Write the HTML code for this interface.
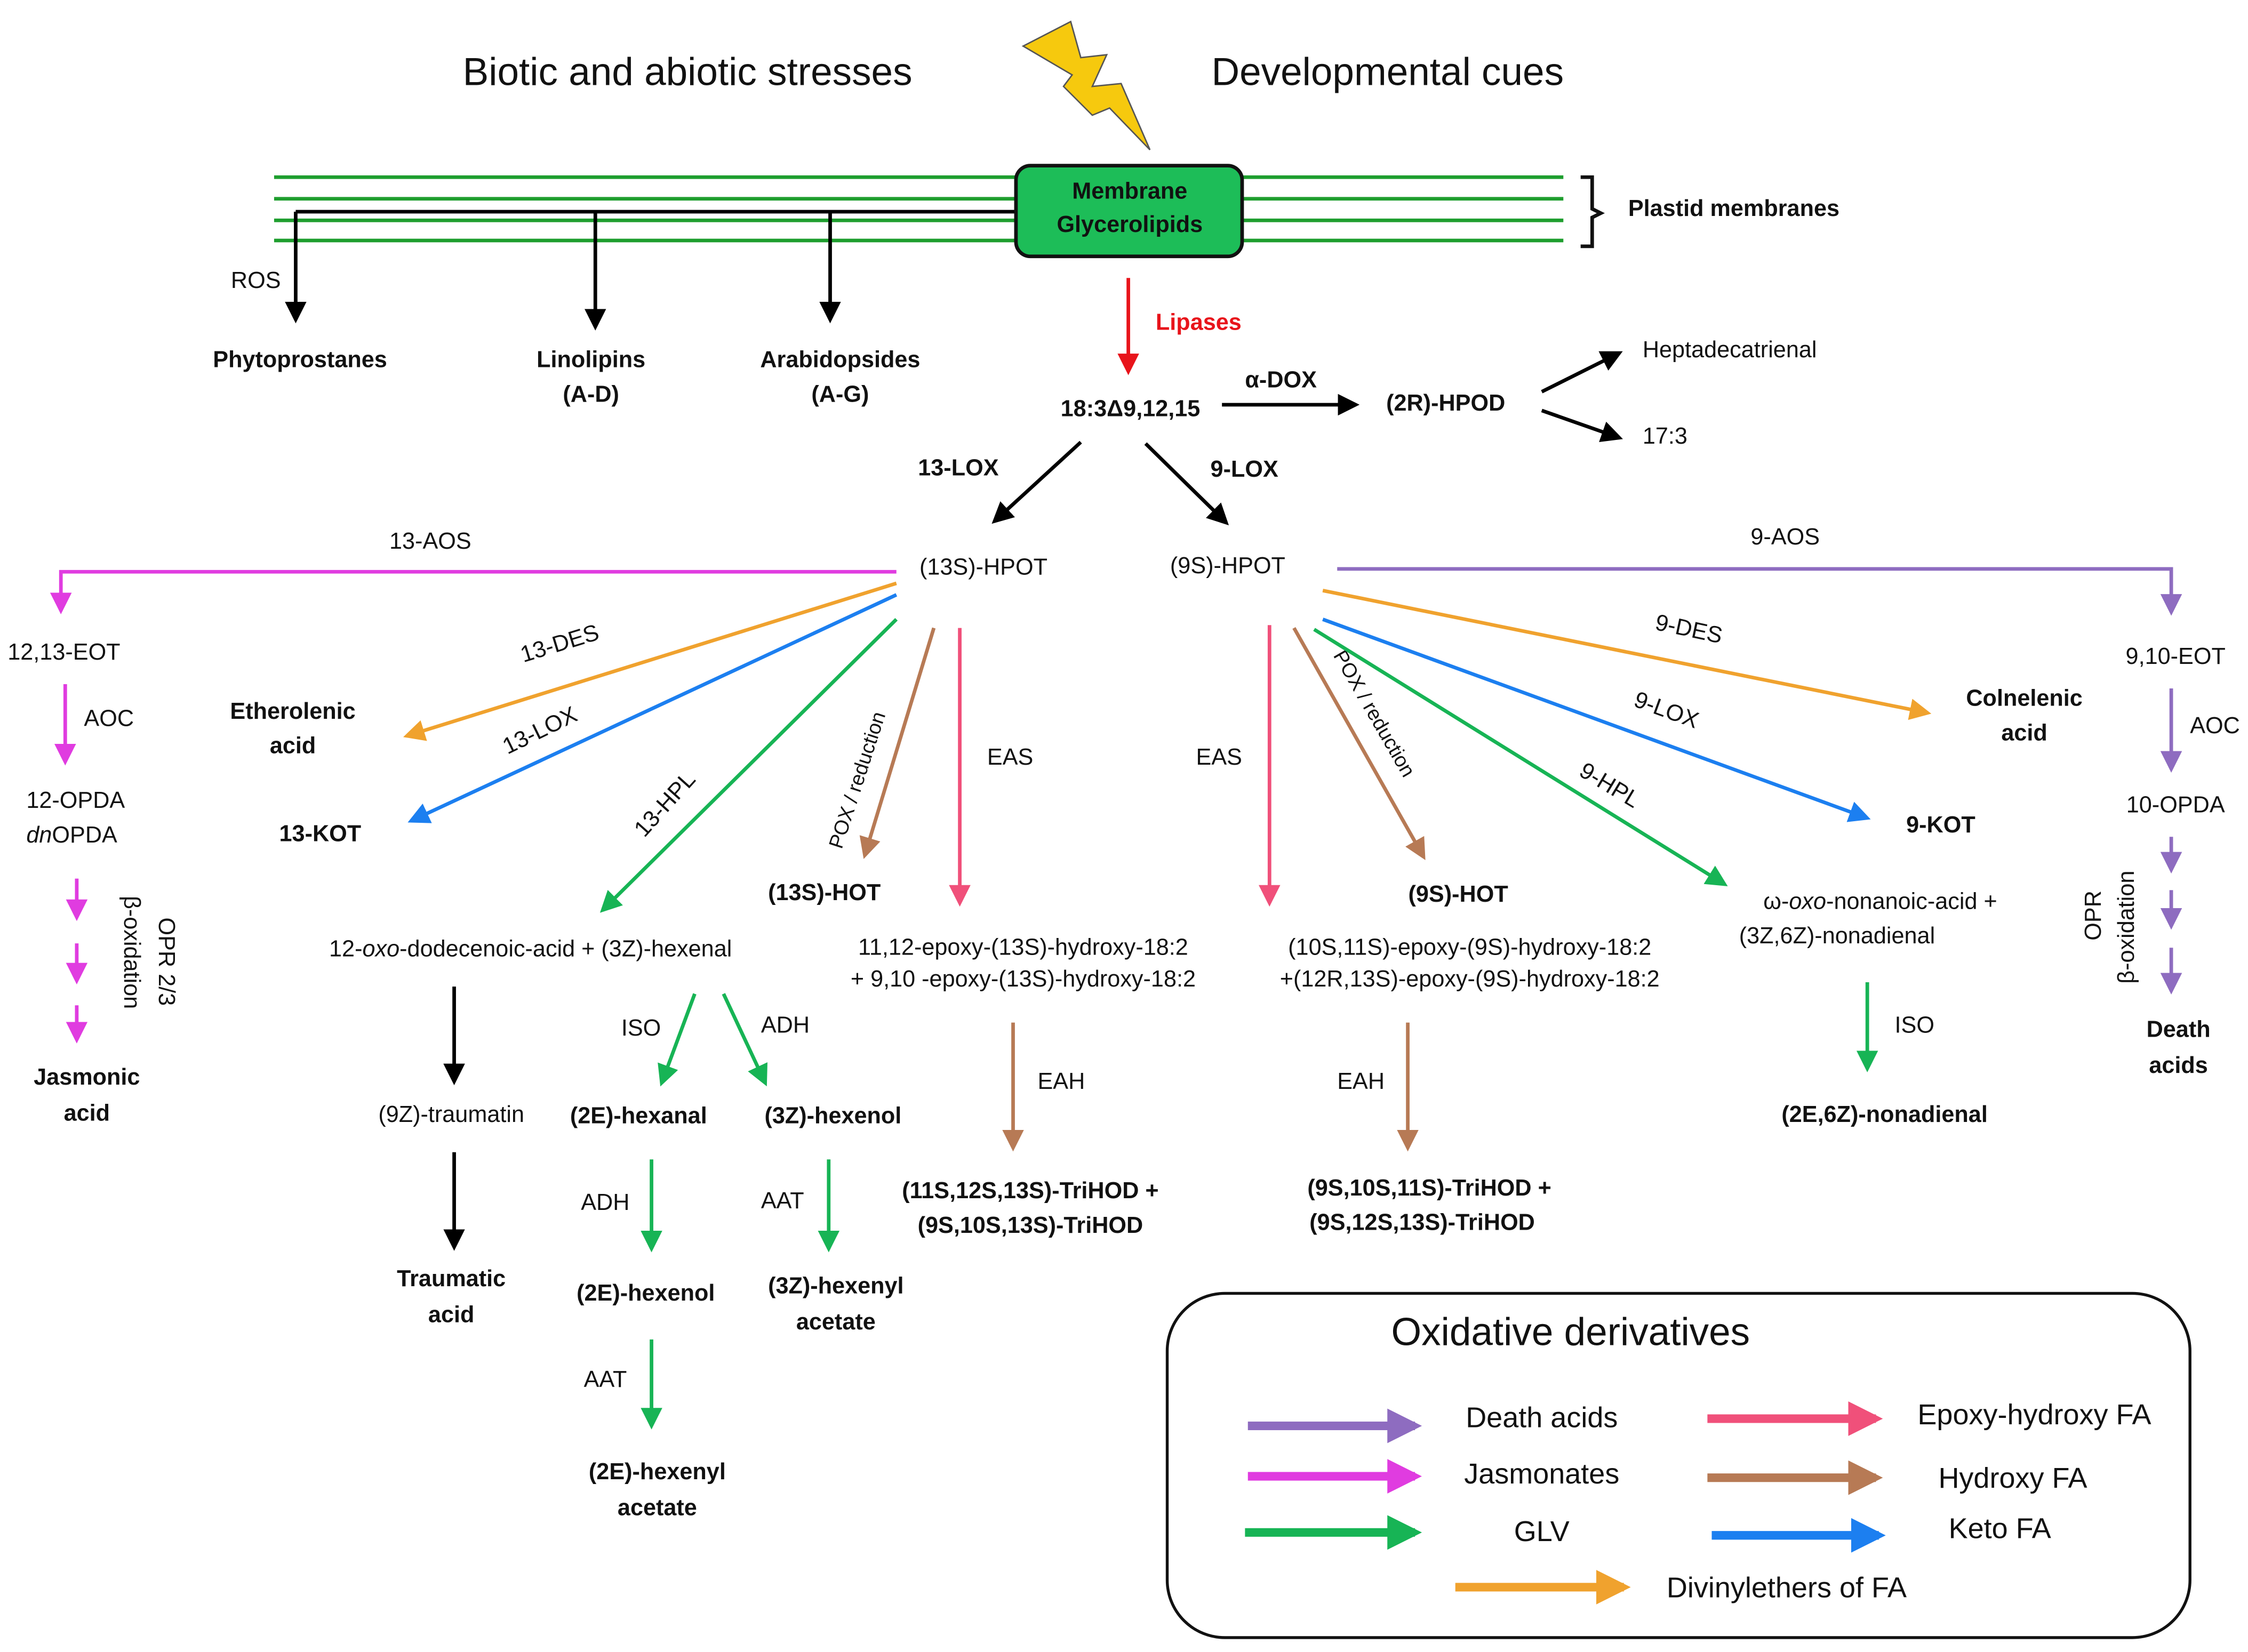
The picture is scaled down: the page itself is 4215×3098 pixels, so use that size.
<!DOCTYPE html>
<html><head><meta charset="utf-8"><style>
html,body{margin:0;padding:0;background:#fff;}
svg{display:block;}
text{font-family:"Liberation Sans Narrow","Liberation Sans",sans-serif;font-size:16px;fill:#111;}
.b{font-weight:bold;}
.big{font-family:"Liberation Sans",sans-serif;font-size:27px;}
.lg{font-size:20px;}
</style></head><body>
<svg width="4215" height="3098" viewBox="0 0 1560 1147" xmlns="http://www.w3.org/2000/svg">
<defs>
<marker id="k" markerWidth="6" markerHeight="6" refX="5" refY="3" orient="auto" markerUnits="strokeWidth"><path d="M0,0 L6,3 L0,6 z" fill="#000"/></marker>
<marker id="r" markerWidth="6" markerHeight="6" refX="5" refY="3" orient="auto" markerUnits="strokeWidth"><path d="M0,0 L6,3 L0,6 z" fill="#e8141b"/></marker>
<marker id="m" markerWidth="6" markerHeight="6" refX="5" refY="3" orient="auto" markerUnits="strokeWidth"><path d="M0,0 L6,3 L0,6 z" fill="#e03ce0"/></marker>
<marker id="p" markerWidth="6" markerHeight="6" refX="5" refY="3" orient="auto" markerUnits="strokeWidth"><path d="M0,0 L6,3 L0,6 z" fill="#8e6cc0"/></marker>
<marker id="g" markerWidth="6" markerHeight="6" refX="5" refY="3" orient="auto" markerUnits="strokeWidth"><path d="M0,0 L6,3 L0,6 z" fill="#17b455"/></marker>
<marker id="o" markerWidth="6" markerHeight="6" refX="5" refY="3" orient="auto" markerUnits="strokeWidth"><path d="M0,0 L6,3 L0,6 z" fill="#f0a22e"/></marker>
<marker id="bl" markerWidth="6" markerHeight="6" refX="5" refY="3" orient="auto" markerUnits="strokeWidth"><path d="M0,0 L6,3 L0,6 z" fill="#1c7ff0"/></marker>
<marker id="br" markerWidth="6" markerHeight="6" refX="5" refY="3" orient="auto" markerUnits="strokeWidth"><path d="M0,0 L6,3 L0,6 z" fill="#b77a55"/></marker>
<marker id="pk" markerWidth="6" markerHeight="6" refX="5" refY="3" orient="auto" markerUnits="strokeWidth"><path d="M0,0 L6,3 L0,6 z" fill="#f0507a"/></marker>
<marker id="L" markerWidth="4" markerHeight="4" refX="3.2" refY="2" orient="auto" markerUnits="strokeWidth"><path d="M0,0 L4,2 L0,4 z" fill="context-stroke"/></marker>
</defs>

<text class="big" x="477" y="59" text-anchor="middle">Biotic and abiotic stresses</text>
<text class="big" x="963" y="59" text-anchor="middle">Developmental cues</text>
<polygon points="710,32 743,15 750,40 768,38 758,60 778,58 798,104 770,75 758,80 738,60 744,52" fill="#f6c90e" stroke="#555" stroke-width="1"/>

<g stroke="#1e9e2e" stroke-width="2.5">
<line x1="190" y1="123" x2="1085" y2="123"/>
<line x1="190" y1="138" x2="1085" y2="138"/>
<line x1="190" y1="153" x2="1085" y2="153"/>
<line x1="190" y1="167" x2="1085" y2="167"/>
</g>
<line x1="205" y1="147" x2="706" y2="147" stroke="#000" stroke-width="2.5"/>
<g stroke="#000" stroke-width="2.5" fill="none">
<line x1="205" y1="147" x2="205" y2="222" marker-end="url(#k)"/>
<line x1="413" y1="147" x2="413" y2="227" marker-end="url(#k)"/>
<line x1="576" y1="147" x2="576" y2="222" marker-end="url(#k)"/>
</g>
<rect x="705" y="115" width="157" height="63" rx="10" fill="#1dbd58" stroke="#111" stroke-width="2.5"/>
<text class="b" x="784" y="138" text-anchor="middle">Membrane</text>
<text class="b" x="784" y="161" text-anchor="middle">Glycerolipids</text>
<path d="M1097,123 h8 v22 l6,3 l-6,3 v20 h-8" fill="none" stroke="#111" stroke-width="2.5"/>
<text class="b" x="1130" y="150">Plastid membranes</text>

<text x="160" y="200">ROS</text>
<text class="b" x="208" y="255" text-anchor="middle">Phytoprostanes</text>
<text class="b" x="410" y="255" text-anchor="middle">Linolipins</text>
<text class="b" x="410" y="279" text-anchor="middle">(A-D)</text>
<text class="b" x="583" y="255" text-anchor="middle">Arabidopsides</text>
<text class="b" x="583" y="279" text-anchor="middle">(A-G)</text>

<line x1="783" y1="193" x2="783" y2="258" stroke="#e8141b" stroke-width="2.5" marker-end="url(#r)"/>
<text class="b" x="802" y="229" style="fill:#e8141b">Lipases</text>
<text class="b" x="736" y="289">18:3Δ9,12,15</text>
<line x1="848" y1="281" x2="941" y2="281" stroke="#000" stroke-width="2.5" marker-end="url(#k)"/>
<text class="b" x="864" y="269">α-DOX</text>
<text class="b" x="962" y="285">(2R)-HPOD</text>
<line x1="1070" y1="272" x2="1124" y2="245" stroke="#000" stroke-width="2.5" marker-end="url(#k)"/>
<line x1="1070" y1="285" x2="1124" y2="304" stroke="#000" stroke-width="2.5" marker-end="url(#k)"/>
<text x="1140" y="248">Heptadecatrienal</text>
<text x="1140" y="308">17:3</text>

<line x1="750" y1="307" x2="690" y2="362" stroke="#000" stroke-width="2.5" marker-end="url(#k)"/>
<text class="b" x="637" y="330">13-LOX</text>
<line x1="795" y1="308" x2="851" y2="363" stroke="#000" stroke-width="2.5" marker-end="url(#k)"/>
<text class="b" x="840" y="331">9-LOX</text>
<text x="638" y="399">(13S)-HPOT</text>
<text x="812" y="398">(9S)-HPOT</text>

<polyline points="622,397 42,397 42,424" fill="none" stroke="#e03ce0" stroke-width="2.5" marker-end="url(#m)"/>
<text x="270" y="381">13-AOS</text>
<text x="5" y="458">12,13-EOT</text>
<line x1="45" y1="475" x2="45" y2="529" stroke="#e03ce0" stroke-width="2.5" marker-end="url(#m)"/>
<text x="58" y="504">AOC</text>
<text x="18" y="561">12-OPDA</text>
<text x="18" y="585"><tspan font-style="italic">dn</tspan>OPDA</text>
<g stroke="#e03ce0" stroke-width="2.5">
<line x1="53" y1="610" x2="53" y2="637" marker-end="url(#m)"/>
<line x1="53" y1="655" x2="53" y2="681" marker-end="url(#m)"/>
<line x1="53" y1="698" x2="53" y2="722" marker-end="url(#m)"/>
</g>
<text transform="translate(110,637) rotate(90)">OPR 2/3</text>
<text transform="translate(86,622) rotate(90)">β-oxidation</text>
<text class="b" x="60" y="753" text-anchor="middle">Jasmonic</text>
<text class="b" x="60" y="778" text-anchor="middle">acid</text>

<line x1="622" y1="405" x2="282" y2="511" stroke="#f0a22e" stroke-width="2.5" marker-end="url(#o)"/>
<text transform="translate(363,460) rotate(-17)">13-DES</text>
<text class="b" x="203" y="499" text-anchor="middle">Etherolenic</text>
<text class="b" x="203" y="523" text-anchor="middle">acid</text>
<line x1="622" y1="413" x2="285" y2="570" stroke="#1c7ff0" stroke-width="2.5" marker-end="url(#bl)"/>
<text transform="translate(352,524) rotate(-26)">13-LOX</text>
<text class="b" x="222" y="584" text-anchor="middle">13-KOT</text>
<line x1="622" y1="430" x2="418" y2="632" stroke="#17b455" stroke-width="2.5" marker-end="url(#g)"/>
<text transform="translate(447,582) rotate(-48)">13-HPL</text>
<line x1="648" y1="436" x2="600" y2="594" stroke="#b77a55" stroke-width="2.5" marker-end="url(#br)"/>
<text transform="translate(584,590) rotate(-72)" style="font-size:14px">POX / reduction</text>
<text class="b" x="572" y="625" text-anchor="middle">(13S)-HOT</text>
<line x1="666" y1="436" x2="666" y2="627" stroke="#f0507a" stroke-width="2.5" marker-end="url(#pk)"/>
<text x="685" y="531">EAS</text>
<text x="368" y="664" text-anchor="middle">12-<tspan font-style="italic">oxo</tspan>-dodecenoic-acid + (3Z)-hexenal</text>

<line x1="315" y1="685" x2="315" y2="751" stroke="#000" stroke-width="2.5" marker-end="url(#k)"/>
<text x="313" y="779" text-anchor="middle">(9Z)-traumatin</text>
<line x1="315" y1="800" x2="315" y2="866" stroke="#000" stroke-width="2.5" marker-end="url(#k)"/>
<text class="b" x="313" y="893" text-anchor="middle">Traumatic</text>
<text class="b" x="313" y="918" text-anchor="middle">acid</text>

<g stroke="#17b455" stroke-width="2.5">
<line x1="482" y1="690" x2="459" y2="752" marker-end="url(#g)"/>
<line x1="502" y1="690" x2="531" y2="752" marker-end="url(#g)"/>
<line x1="452" y1="805" x2="452" y2="867" marker-end="url(#g)"/>
<line x1="575" y1="805" x2="575" y2="867" marker-end="url(#g)"/>
<line x1="452" y1="930" x2="452" y2="990" marker-end="url(#g)"/>
<line x1="1296" y1="682" x2="1296" y2="742" marker-end="url(#g)"/>
</g>
<text x="431" y="719">ISO</text>
<text x="528" y="717">ADH</text>
<text class="b" x="443" y="780" text-anchor="middle">(2E)-hexanal</text>
<text class="b" x="578" y="780" text-anchor="middle">(3Z)-hexenol</text>
<text x="403" y="840">ADH</text>
<text x="528" y="839">AAT</text>
<text class="b" x="448" y="903" text-anchor="middle">(2E)-hexenol</text>
<text class="b" x="580" y="898" text-anchor="middle">(3Z)-hexenyl</text>
<text class="b" x="580" y="923" text-anchor="middle">acetate</text>
<text x="405" y="963">AAT</text>
<text class="b" x="456" y="1027" text-anchor="middle">(2E)-hexenyl</text>
<text class="b" x="456" y="1052" text-anchor="middle">acetate</text>

<text x="710" y="663" text-anchor="middle">11,12-epoxy-(13S)-hydroxy-18:2</text>
<text x="710" y="685" text-anchor="middle">+ 9,10 -epoxy-(13S)-hydroxy-18:2</text>
<line x1="703" y1="710" x2="703" y2="797" stroke="#b77a55" stroke-width="2.5" marker-end="url(#br)"/>
<text x="720" y="756">EAH</text>
<text class="b" x="715" y="832" text-anchor="middle">(11S,12S,13S)-TriHOD +</text>
<text class="b" x="715" y="856" text-anchor="middle">(9S,10S,13S)-TriHOD</text>

<line x1="881" y1="434" x2="881" y2="627" stroke="#f0507a" stroke-width="2.5" marker-end="url(#pk)"/>
<text x="830" y="531">EAS</text>
<line x1="898" y1="436" x2="988" y2="595" stroke="#b77a55" stroke-width="2.5" marker-end="url(#br)"/>
<text transform="translate(925,455) rotate(60)" style="font-size:14px">POX / reduction</text>
<text class="b" x="1012" y="626" text-anchor="middle">(9S)-HOT</text>
<text x="1020" y="663" text-anchor="middle">(10S,11S)-epoxy-(9S)-hydroxy-18:2</text>
<text x="1020" y="685" text-anchor="middle">+(12R,13S)-epoxy-(9S)-hydroxy-18:2</text>
<line x1="977" y1="710" x2="977" y2="797" stroke="#b77a55" stroke-width="2.5" marker-end="url(#br)"/>
<text x="928" y="756">EAH</text>
<text class="b" x="992" y="830" text-anchor="middle">(9S,10S,11S)-TriHOD +</text>
<text class="b" x="987" y="854" text-anchor="middle">(9S,12S,13S)-TriHOD</text>

<line x1="918" y1="410" x2="1338" y2="495" stroke="#f0a22e" stroke-width="2.5" marker-end="url(#o)"/>
<text transform="translate(1148,437) rotate(12)">9-DES</text>
<text class="b" x="1405" y="490" text-anchor="middle">Colnelenic</text>
<text class="b" x="1405" y="514" text-anchor="middle">acid</text>
<line x1="918" y1="430" x2="1296" y2="568" stroke="#1c7ff0" stroke-width="2.5" marker-end="url(#bl)"/>
<text transform="translate(1133,490) rotate(20)">9-LOX</text>
<text class="b" x="1347" y="578" text-anchor="middle">9-KOT</text>
<line x1="912" y1="437" x2="1197" y2="614" stroke="#17b455" stroke-width="2.5" marker-end="url(#g)"/>
<text transform="translate(1095,538) rotate(31)">9-HPL</text>
<text x="1305" y="631" text-anchor="middle">ω-<tspan font-style="italic">oxo</tspan>-nonanoic-acid +</text>
<text x="1275" y="655" text-anchor="middle">(3Z,6Z)-nonadienal</text>
<text x="1315" y="717">ISO</text>
<text class="b" x="1308" y="779" text-anchor="middle">(2E,6Z)-nonadienal</text>

<polyline points="928,395 1507,395 1507,425" fill="none" stroke="#8e6cc0" stroke-width="2.5" marker-end="url(#p)"/>
<text x="1215" y="378">9-AOS</text>
<text x="1510" y="461" text-anchor="middle">9,10-EOT</text>
<line x1="1507" y1="478" x2="1507" y2="534" stroke="#8e6cc0" stroke-width="2.5" marker-end="url(#p)"/>
<text x="1520" y="509">AOC</text>
<text x="1510" y="564" text-anchor="middle">10-OPDA</text>
<g stroke="#8e6cc0" stroke-width="2.5">
<line x1="1507" y1="581" x2="1507" y2="604" marker-end="url(#p)"/>
<line x1="1507" y1="618" x2="1507" y2="643" marker-end="url(#p)"/>
<line x1="1507" y1="658" x2="1507" y2="688" marker-end="url(#p)"/>
</g>
<text transform="translate(1458,653) rotate(-90)">OPR</text>
<text transform="translate(1481,683) rotate(-90)">β-oxidation</text>
<text class="b" x="1512" y="720" text-anchor="middle">Death</text>
<text class="b" x="1512" y="745" text-anchor="middle">acids</text>

<rect x="810" y="898" width="710" height="239" rx="40" fill="none" stroke="#111" stroke-width="2"/>
<text class="big" x="1090" y="934" text-anchor="middle">Oxidative derivatives</text>
<g stroke-width="6" fill="none">
<line x1="866" y1="990" x2="982" y2="990" stroke="#8e6cc0" marker-end="url(#L)"/>
<line x1="866" y1="1025" x2="982" y2="1025" stroke="#e03ce0" marker-end="url(#L)"/>
<line x1="864" y1="1064" x2="982" y2="1064" stroke="#17b455" marker-end="url(#L)"/>
<line x1="1185" y1="985" x2="1302" y2="985" stroke="#f0507a" marker-end="url(#L)"/>
<line x1="1185" y1="1026" x2="1302" y2="1026" stroke="#b77a55" marker-end="url(#L)"/>
<line x1="1188" y1="1066" x2="1304" y2="1066" stroke="#1c7ff0" marker-end="url(#L)"/>
<line x1="1010" y1="1102" x2="1127" y2="1102" stroke="#f0a22e" marker-end="url(#L)"/>
</g>
<text class="lg" x="1070" y="991" text-anchor="middle">Death acids</text>
<text class="lg" x="1070" y="1030" text-anchor="middle">Jasmonates</text>
<text class="lg" x="1070" y="1070" text-anchor="middle">GLV</text>
<text class="lg" x="1412" y="989" text-anchor="middle">Epoxy-hydroxy FA</text>
<text class="lg" x="1397" y="1033" text-anchor="middle">Hydroxy FA</text>
<text class="lg" x="1388" y="1068" text-anchor="middle">Keto FA</text>
<text class="lg" x="1240" y="1109" text-anchor="middle">Divinylethers of FA</text>
</svg>
</body></html>
